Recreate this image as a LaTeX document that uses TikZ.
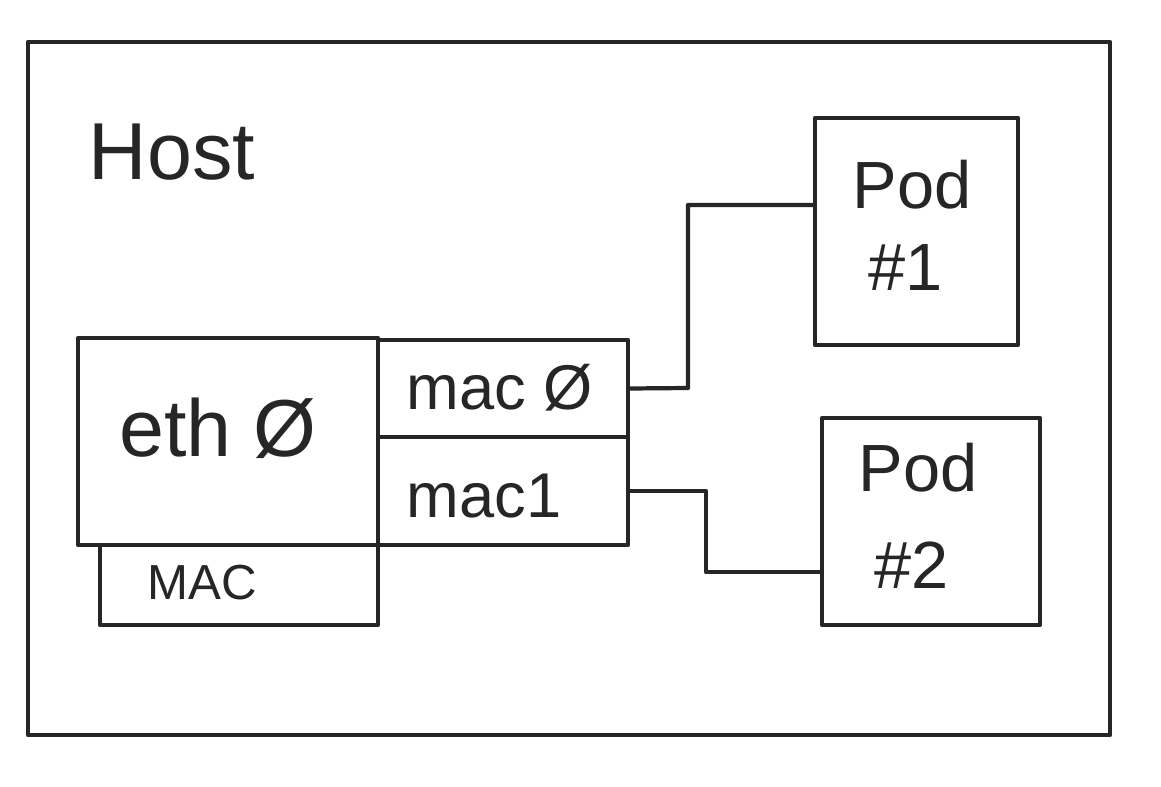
\documentclass[tikz,border=0pt]{standalone}
\usepackage{fontspec}
\setmainfont{Liberation Sans}
\usetikzlibrary{fit, positioning}

\begin{document}
\begin{tikzpicture}[x=0.02cm, y=-0.02cm,
		box/.style={draw=black!85, line width=2.4pt, line join=round, inner sep=0pt},
		wire/.style={draw=black!85, line width=2.4pt, line join=round},
		lbl/.style={text=black!85, inner sep=0pt}]
	\useasboundingbox[fill=white] (0,0) rectangle (1161,787);
	% host and its interfaces
	\node[box, fit={(28,42) (1110,735)}] (host) {};
	\node[lbl, font=\fontsize{46}{52}\selectfont] (hostlbl) at (172,152) {Host};
	\node[box, fit={(78,338) (378,545)}] (eth) {};
	\node[lbl, font=\fontsize{46}{52}\selectfont] (ethlbl) at (218,428) {eth Ø};
	\node[box, fit={(100,545) (378,625)}] (mac) {};
	\node[lbl, font=\fontsize{28}{32}\selectfont] (maclbl) at (202,583) {MAC};
	\node[box, fit={(378,340) (628,437)}] (mac0) {};
	\node[lbl, font=\fontsize{36}{40}\selectfont] (mac0lbl) at (500,388) {mac Ø};
	\node[box, fit={(378,437) (628,545)}] (mac1) {};
	\node[lbl, font=\fontsize{36}{40}\selectfont] (mac1lbl) at (484,496) {mac1};
	% pods
	\node[box, fit={(815,118) (1018,345)}] (pod1) {};
	\node[lbl, font=\fontsize{38}{44}\selectfont] (pod1a) at (912,185) {Pod};
	\node[lbl, font=\fontsize{38}{44}\selectfont] (pod1b) at (906,268) {\#1};
	\node[box, fit={(822,418) (1040,625)}] (pod2) {};
	\node[lbl, font=\fontsize{38}{44}\selectfont] (pod2a) at (918,468) {Pod};
	\node[lbl, font=\fontsize{38}{44}\selectfont] (pod2b) at (912,565) {\#2};
	% links
	\draw[wire] (mac0.east) -- (688,388) |- (pod1.west |- 0,205);
	\draw[wire] (mac1.east) -- (706,491) |- (pod2.west |- 0,572);
\end{tikzpicture}
\end{document}
